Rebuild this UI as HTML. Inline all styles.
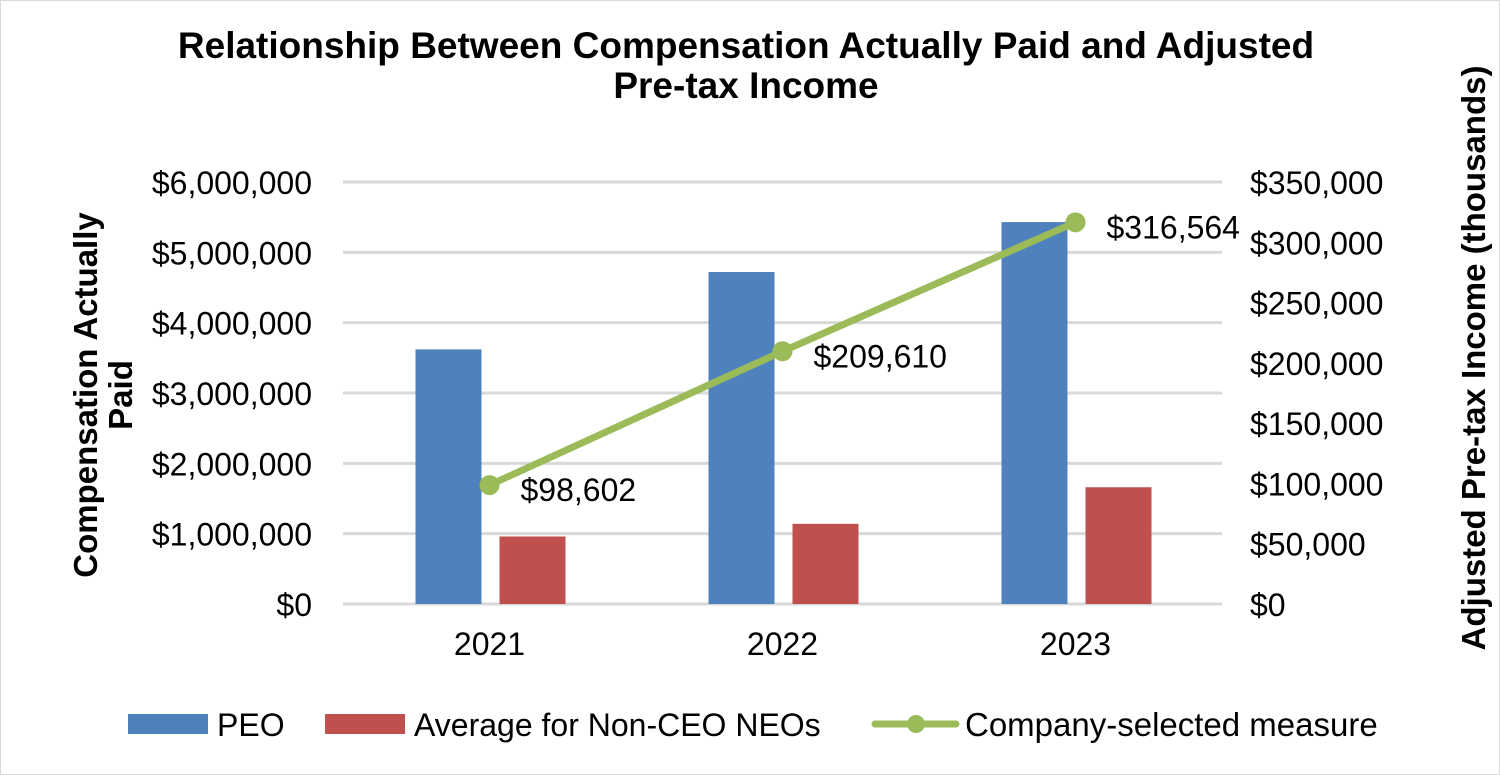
<!DOCTYPE html>
<html><head><meta charset="utf-8"><style>
body{margin:0;background:#fff;}
svg{display:block;font-family:"Liberation Sans",Arial,sans-serif;}
</style></head><body>
<svg id="chart" width="1500" height="775" viewBox="0 0 1500 775">
<rect x="0.5" y="0.5" width="1499" height="774" fill="#fff" stroke="#d9d9d9"/>
<text x="746" y="58" text-anchor="middle" font-size="37" font-weight="bold">Relationship Between Compensation Actually Paid and Adjusted</text>
<text x="746" y="98" text-anchor="middle" font-size="37" font-weight="bold">Pre-tax Income</text>
<g id="grid"></g>
<g id="bars"></g>
<g id="line"></g>
<g id="labels"></g>
<text transform="translate(97,395) rotate(-90)" text-anchor="middle" font-size="33" font-weight="bold">Compensation Actually</text>
<text transform="translate(132,395) rotate(-90)" text-anchor="middle" font-size="33" font-weight="bold">Paid</text>
<text transform="translate(1485,358) rotate(-90)" text-anchor="middle" font-size="33" font-weight="bold">Adjusted Pre-tax Income (thousands)</text>
<g>
<rect x="128" y="714" width="80" height="20" fill="#4F81BD"/>
<text x="217" y="736" font-size="32">PEO</text>
<rect x="325" y="714" width="80" height="20" fill="#C0504D"/>
<text x="414" y="736" font-size="32">Average for Non-CEO NEOs</text>
<line x1="875" y1="724" x2="956" y2="724" stroke="#9BBB59" stroke-width="7" stroke-linecap="round"/>
<circle cx="916" cy="724" r="9" fill="#9BBB59"/>
<text x="965" y="736" font-size="33">Company-selected measure</text>
</g>
</svg>
<script>
const years = ["2021","2022","2023"];
const peo = [3620000, 4720000, 5430000];
const neo = [960000, 1140000, 1660000];
const measure = [98602, 209610, 316564];
const measureLabels = ["$98,602","$209,610","$316,564"];
const leftTicks = [0,1000000,2000000,3000000,4000000,5000000,6000000];
const leftTickLabels = ["$0","$1,000,000","$2,000,000","$3,000,000","$4,000,000","$5,000,000","$6,000,000"];
const rightTicks = [0,50000,100000,150000,200000,250000,300000,350000];
const rightTickLabels = ["$0","$50,000","$100,000","$150,000","$200,000","$250,000","$300,000","$350,000"];

const NS="http://www.w3.org/2000/svg";
const X0=343,X1=1222,Y0=604,Y1=182;
const yL=v=>Y0-(v/6000000)*(Y0-Y1);
const yR=v=>Y0-(v/350000)*(Y0-Y1);
const band=(X1-X0)/years.length;
const xc=i=>X0+band*(i+0.5);
function mk(tag,attrs,parent){const e=document.createElementNS(NS,tag);for(const k in attrs)e.setAttribute(k,attrs[k]);parent.appendChild(e);return e;}
const grid=document.getElementById('grid'),bars=document.getElementById('bars'),line=document.getElementById('line'),labels=document.getElementById('labels');
leftTicks.forEach((t,i)=>{
  const l=mk('line',{x1:X0,x2:X1,y1:yL(t),y2:yL(t),stroke:'#d9d9d9','stroke-width':3},grid);
  
  
  const tx=mk('text',{x:312,y:yL(t)+12,'text-anchor':'end','font-size':32},labels);
  tx.textContent=leftTickLabels[i];
  
  
});
rightTicks.forEach((t,i)=>{
  const tx=mk('text',{x:1250,y:yR(t)+12,'font-size':32},labels);
  tx.textContent=rightTickLabels[i];
  
  
});
years.forEach((y,i)=>{
  const c=xc(i);
  const b1=mk('rect',{x:c-74,y:yL(peo[i]),width:66,height:Y0-yL(peo[i]),fill:'#4F81BD'},bars);
  
  
  const b2=mk('rect',{x:c+10,y:yL(neo[i]),width:66,height:Y0-yL(neo[i]),fill:'#C0504D'},bars);
  
  
  const tx=mk('text',{x:c,y:655,'text-anchor':'middle','font-size':32},labels);
  tx.textContent=y;
  
  
});
const pts=measure.map((v,i)=>xc(i)+','+yR(v)).join(' ');
const pl=mk('polyline',{points:pts,fill:'none',stroke:'#9BBB59','stroke-width':7,'stroke-linejoin':'round'},line);


measure.forEach((v,i)=>{
  const c=mk('circle',{cx:xc(i),cy:yR(v),r:10,fill:'#9BBB59'},line);
  
  
  const tx=mk('text',{x:xc(i)+31,y:yR(v)+16,'font-size':32},labels);
  tx.textContent=measureLabels[i];
  
  
});
</script>
</body></html>
